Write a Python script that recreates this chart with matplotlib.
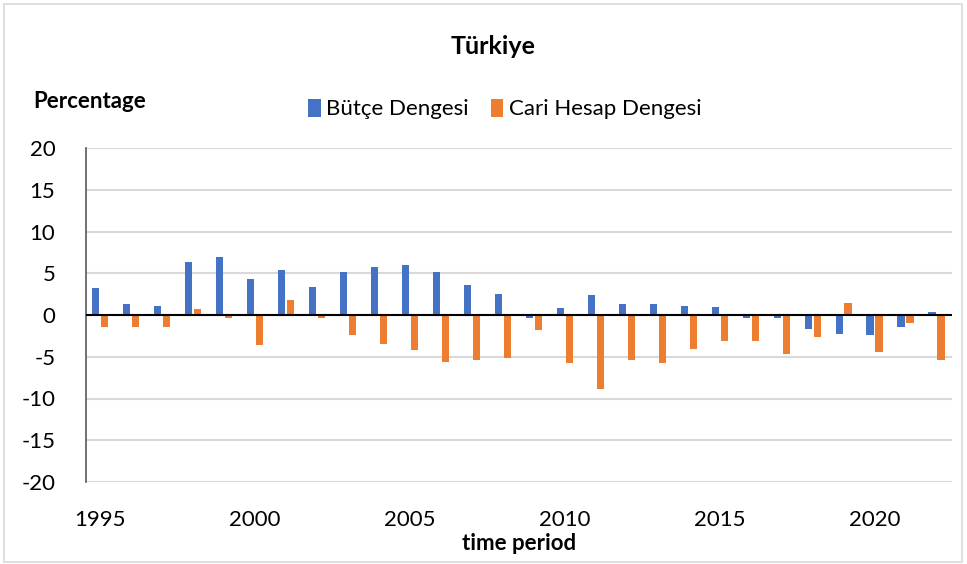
import numpy as np
import matplotlib.pyplot as plt
from matplotlib.patches import Rectangle

years = list(range(1995, 2023))
butce = [3.2, 1.3, 1.1, 6.4, 7.0, 4.3, 5.4, 3.4, 5.2, 5.8,
         6.0, 5.2, 3.6, 2.5, -0.4, 0.8, 2.4, 1.3, 1.3, 1.1,
         1.0, -0.3, -0.3, -1.7, -2.3, -2.4, -1.4, 0.4]
cari = [-1.4, -1.4, -1.4, 0.7, -0.4, -3.6, 1.8, -0.3, -2.4, -3.5,
        -4.2, -5.6, -5.4, -5.2, -1.8, -5.8, -8.9, -5.4, -5.8, -4.1,
        -3.1, -3.1, -4.7, -2.6, 1.4, -4.4, -0.9, -5.4]
y_ticks = [20, 15, 10, 5, 0, -5, -10, -15, -20]
x_ticks = [1995, 2000, 2005, 2010, 2015, 2020]

blue = '#4472c4'
orange = '#ed7d31'

plt.rcParams['font.family'] = ['Lato', 'DejaVu Sans']

fig = plt.figure(figsize=(9.67, 5.64), dpi=100)
ax = fig.add_axes([86 / 967, 1 - 482 / 564, (952 - 86) / 967, (482 - 148) / 564])

x = np.array(years)
w = 0.23
ax.bar(x - 0.145, butce, width=w, color=blue, label='Bütçe Dengesi', zorder=3)
ax.bar(x + 0.145, cari, width=w, color=orange, label='Cari Hesap Dengesi', zorder=3)

ax.set_xlim(1994.55, 2022.5)
ax.set_ylim(-20, 20)
ax.set_yticks(y_ticks)
ax.set_yticklabels([str(v) for v in y_ticks])
ax.set_xticks(x_ticks)
ax.tick_params(axis='both', length=0, labelsize=16, colors='#000000')
ax.tick_params(axis='x', pad=20)
ax.tick_params(axis='y', pad=22)

ax.grid(axis='y', color='#d9d9d9', linewidth=1.5, zorder=0)
ax.axhline(0, color='black', linewidth=1.5, zorder=4)
for s in ['top', 'right', 'bottom']:
    ax.spines[s].set_visible(False)
ax.spines['left'].set_color('#595959')
ax.spines['left'].set_linewidth(1.2)

ax.set_xlabel('time period', fontsize=16, fontweight='bold', labelpad=2)

fig.text(493 / 967, 1 - 46 / 564, 'Türkiye', ha='center', va='center',
         fontsize=18, fontweight='bold')
fig.text(33 / 967, 1 - 101 / 564, 'Percentage', ha='left', va='center',
         fontsize=16, fontweight='bold')

fig.legend(loc='center', bbox_to_anchor=(505 / 967, 1 - 109 / 564), ncol=2,
           frameon=False, fontsize=16, handlelength=0.55, handleheight=0.9,
           handletextpad=0.25, columnspacing=1.0)

# outer frame around the whole chart
fig.patches.append(Rectangle((4 / 967, 2 / 564), 958 / 967, 558 / 564,
                             transform=fig.transFigure, fill=False,
                             edgecolor='#d9d9d9', linewidth=1.2))

fig.savefig('out.png', dpi=100, facecolor='white')
